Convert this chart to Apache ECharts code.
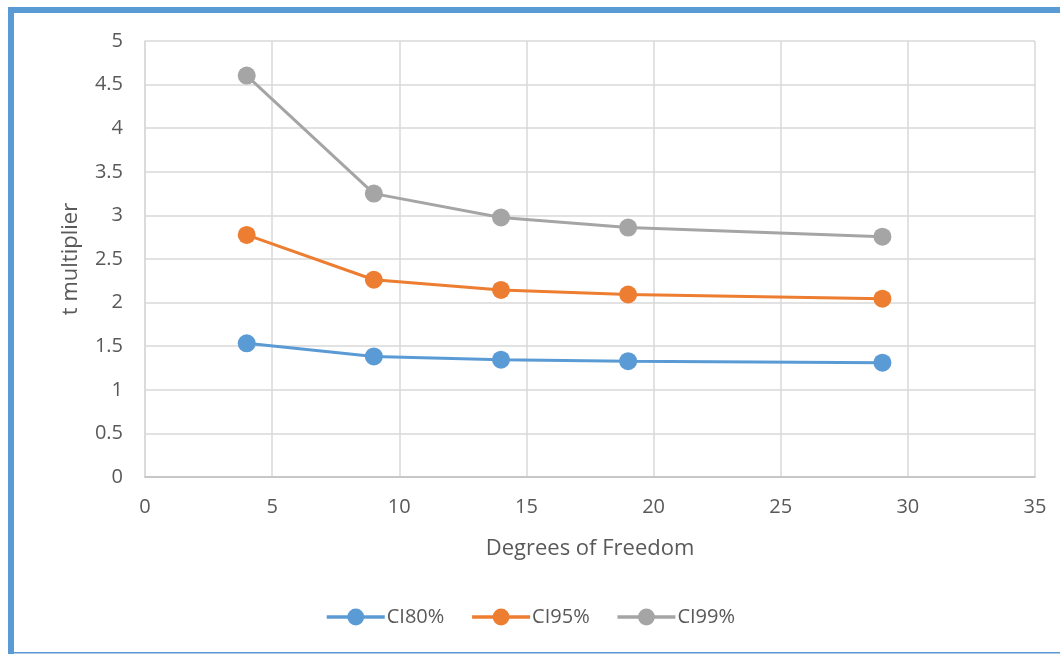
<!DOCTYPE html>
<html><head><meta charset="utf-8">
<script src="https://cdn.jsdelivr.net/npm/echarts@6/dist/echarts.min.js"></script>
<style>html,body{margin:0;padding:0;background:#fff;}#c{width:1060px;height:654px;}</style>
</head><body><div id="c"></div>
<script>
const df = [4, 9, 14, 19, 29];
const ci80 = [1.533, 1.383, 1.345, 1.328, 1.311];
const ci95 = [2.776, 2.262, 2.145, 2.093, 2.045];
const ci99 = [4.604, 3.250, 2.977, 2.861, 2.756];
const seriesNames = ['CI80%', 'CI95%', 'CI99%'];
const colors = ['#5B9BD5', '#ED7D31', '#A5A5A5'];
const font = '"Open Sans", "Liberation Sans", sans-serif';
const chart = echarts.init(document.getElementById('c'));
const mk = (name, vals, color) => ({
  name, type: 'line', data: df.map((d, i) => [d, vals[i]]),
  symbol: 'circle', symbolSize: 18, lineStyle: {width: 3, color}, itemStyle: {color},
  z: 3
});
chart.setOption({
  animation: false,
  color: colors,
  textStyle: {fontFamily: font, color: '#595959'},
  graphic: [
    {type: 'rect', shape: {x: 8, y: 7, width: 1060, height: 6}, style: {fill: '#5B9BD5'}, z: 10},
    {type: 'rect', shape: {x: 8, y: 7, width: 6, height: 660}, style: {fill: '#5B9BD5'}, z: 10},
    {type: 'rect', shape: {x: 8, y: 652, width: 1060, height: 1.5}, style: {fill: '#5B9BD5'}, z: 10}
  ],
  grid: {left: 145, right: 25, top: 41, bottom: 177, containLabel: false},
  legend: {
    data: seriesNames, bottom: 22, left: 'center', itemWidth: 58, itemHeight: 21, itemGap: 26,
    lineStyle: {width: 3.5},
    textStyle: {fontSize: 20, color: '#595959', fontFamily: font, padding: [0, 0, 0, -3]}
  },
  xAxis: {
    type: 'value', min: 0, max: 35, interval: 5,
    name: 'Degrees of Freedom', nameLocation: 'middle', nameGap: 61,
    nameTextStyle: {fontSize: 22, color: '#595959', fontFamily: font},
    axisLine: {show: true, lineStyle: {color: '#BFBFBF', width: 1.5}},
    axisTick: {show: false},
    axisLabel: {fontSize: 20, color: '#595959', margin: 20, fontFamily: font},
    splitLine: {show: true, lineStyle: {color: '#D9D9D9', width: 1.5}}
  },
  yAxis: {
    type: 'value', min: 0, max: 5, interval: 0.5,
    name: 't multiplier', nameLocation: 'middle', nameGap: 63,
    nameTextStyle: {fontSize: 22, color: '#595959', fontFamily: font},
    axisLine: {show: true, lineStyle: {color: '#D9D9D9', width: 1.5}},
    axisTick: {show: false},
    axisLabel: {fontSize: 20, color: '#595959', margin: 22, fontFamily: font},
    splitLine: {show: true, lineStyle: {color: '#D9D9D9', width: 1.5}}
  },
  series: [mk(seriesNames[0], ci80, colors[0]), mk(seriesNames[1], ci95, colors[1]), mk(seriesNames[2], ci99, colors[2])]
});
</script></body></html>
